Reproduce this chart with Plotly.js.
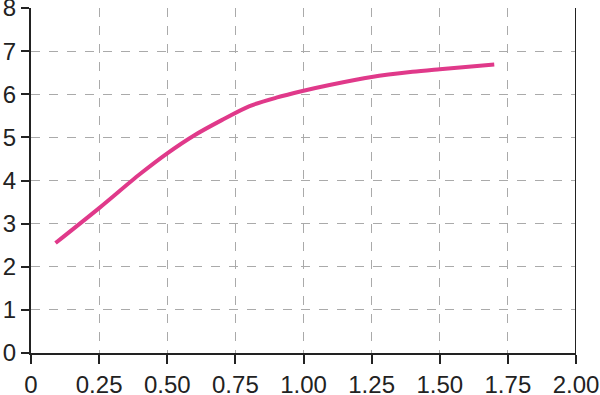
<!DOCTYPE html>
<html><head><meta charset="utf-8">
<script src="https://cdn.plot.ly/plotly-3.0.1.min.js"></script>
<style>html,body{margin:0;padding:0;background:#fff}#c{width:600px;height:395px}</style>
</head><body><div id="c"></div>
<script>
const xValues = [0.09, 0.25, 0.40, 0.50, 0.60, 0.70, 0.80, 0.90, 1.00, 1.10, 1.25, 1.40, 1.50, 1.70];
const yValues = [2.55, 3.36, 4.15, 4.63, 5.05, 5.40, 5.72, 5.92, 6.08, 6.22, 6.40, 6.52, 6.58, 6.69];
const xTicks = [0, 0.25, 0.5, 0.75, 1.0, 1.25, 1.5, 1.75, 2.0];
const xTickLabels = ['0', '0.25', '0.50', '0.75', '1.00', '1.25', '1.50', '1.75', '2.00'];
const yTicks = [0, 1, 2, 3, 4, 5, 6, 7, 8];

const font = {family: 'Liberation Sans, Arial, sans-serif', size: 24, color: '#222'};
Plotly.newPlot('c', [{
  x: xValues, y: yValues, type: 'scatter', mode: 'lines',
  line: {color: '#e0398a', width: 4, shape: 'spline', smoothing: 0.8},
  hoverinfo: 'skip'
}], {
  width: 600, height: 395,
  margin: {l: 31, r: 24, t: 8, b: 42},
  paper_bgcolor: '#fff', plot_bgcolor: '#fff',
  showlegend: false,
  font: font,
  xaxis: {
    range: [0, 2], tickvals: xTicks, ticktext: xTickLabels,
    showline: true, linecolor: '#222', linewidth: 2,
    ticks: 'outside', ticklen: 9, tickwidth: 2, tickcolor: '#222',
    showgrid: true, gridcolor: '#aaa', griddash: 'dash', gridwidth: 1,
    zeroline: false, tickfont: font, ticklabeloverflow: 'allow'
  },
  yaxis: {
    range: [0, 8], tickvals: yTicks,
    showline: true, linecolor: '#222', linewidth: 2,
    ticks: 'outside', ticklen: 8, tickwidth: 2, tickcolor: '#222',
    showgrid: true, gridcolor: '#aaa', griddash: 'dash', gridwidth: 1,
    zeroline: false, tickfont: font, ticklabeloverflow: 'allow'
  },
  shapes: [{type: 'line', xref: 'x', yref: 'paper', x0: 2, x1: 2, y0: 0, y1: 1,
            line: {color: '#222', width: 2}}]
}, {staticPlot: true, displayModeBar: false});
</script></body></html>
